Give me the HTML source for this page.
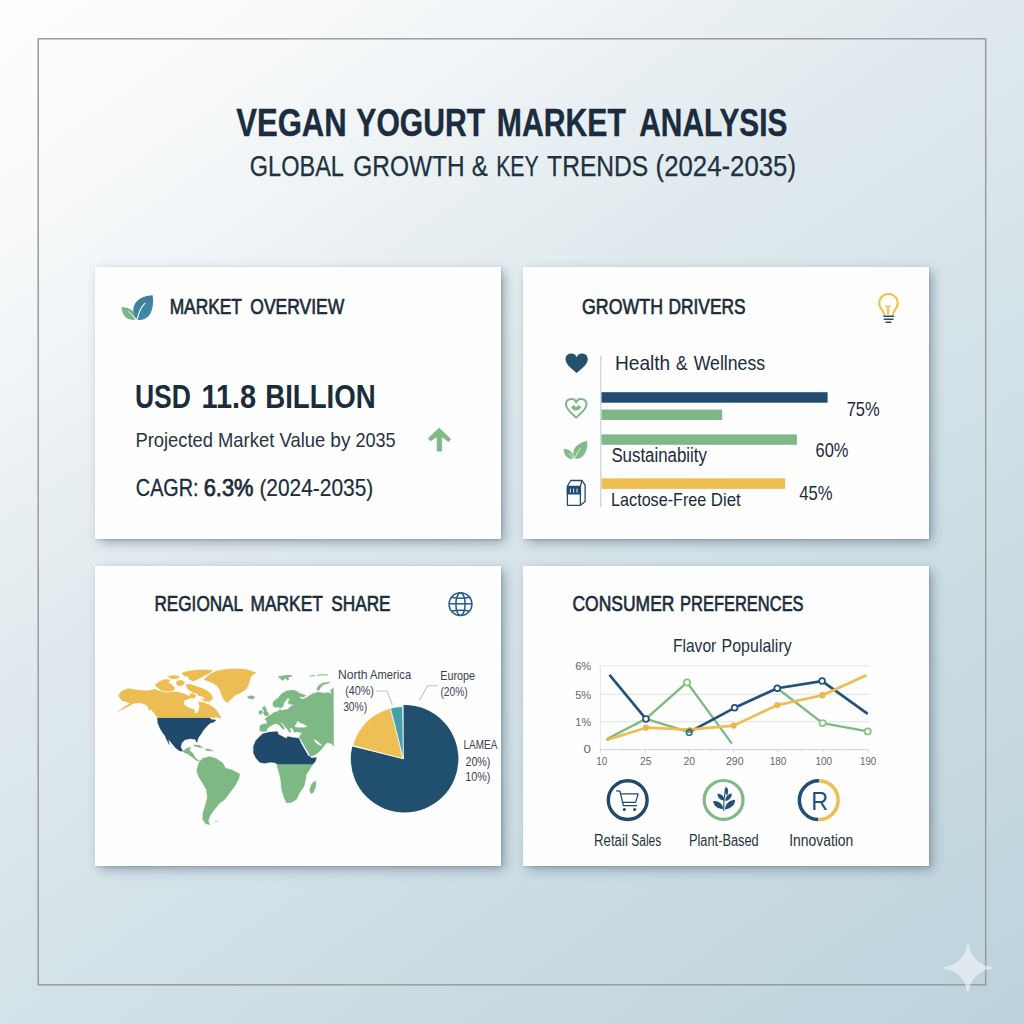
<!DOCTYPE html>
<html lang="en">
<head>
<meta charset="utf-8">
<title>Vegan Yogurt Market Analysis</title>
<style>
html,body{margin:0;padding:0;}
body{background:#d9e5ea;font-family:"Liberation Sans",sans-serif;}
#page{width:1024px;height:1024px;overflow:hidden;position:relative;
background:linear-gradient(145deg,#fefefe 0%,#f7f9fa 14%,#dfe9ed 41%,#d3e2e8 59%,#bcd2db 100%);}
.card{position:absolute;background:#fefefe;box-shadow:4px 4px 11px -1px rgba(40,62,84,0.42), 1px 1px 2px rgba(40,62,84,0.16);}
#c1{left:95px;top:267.2px;width:406px;height:271.7px;}
#c2{left:523px;top:267.2px;width:405.7px;height:271.7px;}
#c3{left:95px;top:566px;width:406px;height:299.7px;}
#c4{left:523px;top:566px;width:405.7px;height:299.7px;}
svg{position:absolute;left:0;top:0;}
text{font-family:"Liberation Sans",sans-serif;}
</style>
</head>
<body>
<div id="page">
<div class="card" id="c1"></div>
<div class="card" id="c2"></div>
<div class="card" id="c3"></div>
<div class="card" id="c4"></div>
<svg width="1024" height="1024" viewBox="0 0 1024 1024">
<g transform="translate(110,660) scale(0.16600)"><path d="M50,215 L62,196 L75,185 L110,172 L160,180 L230,185 L270,176 L300,186 L340,196 L400,192 L440,200 L470,214 L495,226 L470,236 L445,246 L445,266 L470,286 L505,296 L515,322 L530,316 L540,282 L532,252 L560,256 L600,270 L630,290 L650,315 L660,332 L672,352 L650,346 L600,348 L285,348 L268,322 L245,296 L235,305 L228,282 L215,270 L180,258 L140,262 L110,280 L70,300 L45,311 L80,286 L120,262 L95,250 L70,246 L60,228 Z" fill="#ecbd52" stroke="#ecbd52" stroke-width="1.6" stroke-linejoin="round"/><path d="M272,148 L300,128 L330,116 L362,120 L352,135 L375,150 L392,168 L380,186 L345,190 L310,182 L282,165 Z" fill="#ecbd52" stroke="#ecbd52" stroke-width="1.6" stroke-linejoin="round"/><path d="M345,100 L380,92 L420,98 L410,112 L375,114 Z" fill="#ecbd52" stroke="#ecbd52" stroke-width="1.6" stroke-linejoin="round"/><path d="M400,128 L428,120 L450,132 L440,150 L418,158 L400,146 Z" fill="#ecbd52" stroke="#ecbd52" stroke-width="1.6" stroke-linejoin="round"/><path d="M455,150 L480,145 L520,158 L555,170 L585,185 L608,205 L620,232 L600,248 L575,240 L560,222 L535,215 L520,200 L495,195 L470,178 Z" fill="#ecbd52" stroke="#ecbd52" stroke-width="1.6" stroke-linejoin="round"/><path d="M432,78 L470,66 L520,60 L580,58 L622,64 L596,82 L560,100 L528,118 L500,128 L478,118 L470,100 L445,96 Z" fill="#ecbd52" stroke="#ecbd52" stroke-width="1.6" stroke-linejoin="round"/><path d="M478,205 L500,200 L520,215 L505,232 L485,225 Z" fill="#ecbd52" stroke="#ecbd52" stroke-width="1.6" stroke-linejoin="round"/><path d="M545,232 L570,238 L600,252 L570,250 Z" fill="#ecbd52" stroke="#ecbd52" stroke-width="1.6" stroke-linejoin="round"/><path d="M565,118 L600,88 L640,66 L700,55 L760,52 L820,56 L880,76 L850,98 L838,140 L822,175 L792,196 L752,214 L722,244 L706,258 L686,240 L672,212 L662,180 L645,155 L610,135 Z" fill="#ecbd52" stroke="#ecbd52" stroke-width="1.6" stroke-linejoin="round"/><path d="M285,349 L600,349 L612,358 L640,362 L622,376 L605,380 L582,400 L562,425 L546,450 L532,468 L524,497 L512,478 L482,474 L452,480 L432,500 L426,525 L440,550 L420,548 L395,530 L372,502 L352,478 L358,512 L340,478 L330,455 L318,440 L300,410 L288,380 Z" fill="#1f4a6c" stroke="#1f4a6c" stroke-width="1.6" stroke-linejoin="round"/><path d="M440,550 L462,532 L486,524 L480,546 L500,562 L508,580 L520,595 L542,610 L520,606 L495,586 L470,566 L448,558 Z" fill="#7eb885" stroke="#7eb885" stroke-width="1.6" stroke-linejoin="round"/><path d="M505,510 L540,514 L562,530 L530,526 L506,516 Z" fill="#7eb885" stroke="#7eb885" stroke-width="1.6" stroke-linejoin="round"/><path d="M572,535 L600,537 L622,548 L582,546 Z" fill="#7eb885" stroke="#7eb885" stroke-width="1.6" stroke-linejoin="round"/><path d="M540,610 L560,592 L600,582 L640,594 L680,620 L695,650 L740,664 L782,686 L776,716 L752,760 L722,800 L692,840 L662,862 L642,886 L622,910 L602,940 L592,972 L602,992 L576,986 L558,960 L560,920 L575,870 L586,830 L580,780 L556,740 L532,700 L522,666 L530,636 Z" fill="#7eb885" stroke="#7eb885" stroke-width="1.6" stroke-linejoin="round"/><path d="M632,968 L645,970 L640,976 Z" fill="#7eb885" stroke="#7eb885" stroke-width="1.6" stroke-linejoin="round"/><path d="M826,222 L850,214 L874,222 L860,236 L836,232 Z" fill="#7eb885" stroke="#7eb885" stroke-width="1.6" stroke-linejoin="round"/></g><g transform="translate(240,660) scale(0.16600)"><path d="M222,629 L438,629 L420,660 L400,690 L396,720 L386,760 L360,800 L340,840 L310,858 L280,862 L266,830 L250,780 L246,730 L236,680 L226,650 Z" fill="#7eb885" stroke="#7eb885" stroke-width="1.6" stroke-linejoin="round"/><path d="M440,736 L458,730 L456,766 L440,800 L426,806 L420,780 L430,750 Z" fill="#7eb885" stroke="#7eb885" stroke-width="1.6" stroke-linejoin="round"/></g><g transform="translate(250,670) scale(0.09766)"><path d="M100,625 L100,572 L128,556 L172,548 L172,525 L150,502 L180,478 L215,455 L240,438 L262,428 L285,425 L300,405 L330,412 L385,402 L420,372 L447,356 L402,350 L388,330 L408,290 L380,295 L352,330 L340,372 L312,392 L280,378 L262,384 L238,372 L232,345 L240,320 L290,285 L320,245 L370,215 L430,205 L470,212 L510,238 L548,250 L572,262 L545,282 L520,272 L505,280 L540,300 L580,282 L610,262 L640,242 L700,225 L760,236 L800,230 L832,242 L822,210 L855,178 L858,780 L830,752 L790,745 L758,775 L742,800 L716,830 L680,860 L640,880 L614,884 L598,850 L560,790 L530,732 L515,702 L500,690 L518,662 L530,642 L480,632 L455,640 L440,612 L425,590 L410,600 L420,635 L405,640 L385,610 L365,590 L345,560 L325,540 L310,535 L335,565 L352,595 L345,612 L325,595 L300,565 L280,552 L255,550 L225,565 L200,580 L178,600 L170,625 L140,632 Z" fill="#7eb885" stroke="#7eb885" stroke-width="2.5" stroke-linejoin="round"/><path d="M125,385 L150,368 L165,395 L175,425 L195,450 L180,470 L150,465 L135,440 L145,415 L130,405 Z" fill="#7eb885" stroke="#7eb885" stroke-width="2.5" stroke-linejoin="round"/><path d="M90,425 L120,410 L130,430 L115,455 L92,450 Z" fill="#7eb885" stroke="#7eb885" stroke-width="2.5" stroke-linejoin="round"/><path d="M285,68 L330,60 L380,52 L430,55 L425,68 L390,75 L400,95 L385,105 L360,85 L335,110 L310,90 Z" fill="#7eb885" stroke="#7eb885" stroke-width="2.5" stroke-linejoin="round"/><path d="M615,55 L660,52 L662,64 L618,66 Z" fill="#9cc9a0" stroke="#9cc9a0" stroke-width="2.5" stroke-linejoin="round"/><path d="M690,50 L740,40 L800,45 L798,56 L745,54 L692,62 Z" fill="#9cc9a0" stroke="#9cc9a0" stroke-width="2.5" stroke-linejoin="round"/><path d="M680,200 L700,160 L750,130 L825,122 L800,137 L750,152 L722,180 L706,212 Z" fill="#7eb885" stroke="#7eb885" stroke-width="2.5" stroke-linejoin="round"/><path d="M100,680 L130,652 L200,636 L280,630 L292,660 L335,680 L372,702 L385,680 L440,690 L500,700 L520,742 L560,812 L600,872 L630,902 L682,895 L668,940 L642,966 L280,966 L255,950 L210,945 L150,956 L100,946 L60,902 L35,850 L35,782 L60,722 Z" fill="#1f4a6c" stroke="#1f4a6c" stroke-width="2.5" stroke-linejoin="round"/><path d="M455,578 L475,548 L490,520 L505,535 L525,545 L560,560 L590,580 L545,588 L490,588 Z" fill="#fefefe"/><path d="M660,710 L690,728 L722,758 L740,770 L720,772 L700,765 L675,745 L658,725 Z" fill="#fefefe"/><path d="M522,742 L532,738 L610,872 L600,880 Z" fill="#fefefe"/></g>
<rect x="38.2" y="38.8" width="947.5" height="946" fill="none" stroke="#9a9c9e" stroke-width="1.5"/>
<g opacity="0.52"><path d="M967.9,944.5 C970.006,957.37 978.43,965.794 991.3,967.9 C978.43,970.006 970.006,978.43 967.9,991.3 C965.794,978.43 957.37,970.006 944.5,967.9 C957.37,965.794 965.794,957.37 967.9,944.5 Z" fill="#ffffff" stroke="#ffffff" stroke-width="1.6" stroke-linejoin="round"/></g>
<g transform="translate(70,240) scale(0.08789)"><defs><linearGradient id="lg1" x1="0" y1="0" x2="0.3" y2="1"><stop offset="0" stop-color="#41788f"/><stop offset="1" stop-color="#3f8bab"/></linearGradient></defs><path d="M745,905 C700,918 640,900 610,850 C594,820 588,790 585,765 C625,760 685,775 718,812 C742,842 750,880 745,905 Z" fill="#79b688"/><path d="M765,908 C722,860 700,790 745,715 C790,650 880,630 940,628 C952,700 945,800 900,860 C870,900 810,918 765,908 Z" fill="url(#lg1)"/><path d="M668,818 C700,840 725,870 742,900" stroke="#fff" stroke-width="11" fill="none" stroke-linecap="round"/><path d="M852,720 C810,760 780,830 764,902" stroke="#fff" stroke-width="12" fill="none" stroke-linecap="round"/></g>
<path d="M439.17,428.09 L450.64,438.93 L448.69,441.76 L441.76,436.73 L441.76,451.13 L437.07,451.13 L437.07,436.73 L430.38,440.88 L428.09,438.44 Z" fill="#7dba86" stroke="#7dba86" stroke-width="0.6" stroke-linejoin="round"/>
<line x1="600.8" y1="355.5" x2="600.8" y2="507" stroke="#d0d8de" stroke-width="1.5"/>
<rect x="601.5" y="392.2" width="226.1" height="10.5" fill="#234d6e"/>
<rect x="601.5" y="409.6" width="120.7" height="10.4" fill="#7db886"/>
<rect x="601.5" y="434.4" width="195.4" height="10.4" fill="#7db886"/>
<rect x="601.5" y="478.3" width="183.7" height="10.6" fill="#edbf52"/>
<path d="M576.65,373 C573.9739999999999,370.648 565.5,364.768 565.5,359.28 C565.5,354.96799999999996 568.622,353.4 571.521,353.4 C573.9739999999999,353.4 575.981,354.772 576.65,357.32 C577.319,354.772 579.326,353.4 581.779,353.4 C584.678,353.4 587.8,354.96799999999996 587.8,359.28 C587.8,364.768 579.326,370.648 576.65,373 Z" fill="#25506f"/>
<path d="M576.2,417.4 C573.7520000000001,415.17999999999995 566.0,409.63 566.0,404.45 C566.0,400.38 568.856,398.9 571.508,398.9 C573.752,398.9 575.5880000000001,400.195 576.2,402.59999999999997 C576.812,400.195 578.648,398.9 580.8919999999999,398.9 C583.544,398.9 586.4,400.38 586.4,404.45 C586.4,409.63 578.648,415.17999999999995 576.2,417.4 Z" fill="none" stroke="#7db886" stroke-width="2.0" stroke-linejoin="round"/>
<path d="M571,407.6 L573.6,404.9 L576.2,407.2 L578.8,404.9 L581.3,407.4 L578.6,410 L575.4,410.7 L572.8,409.6 Z" fill="#7db886"/>
<g transform="translate(555,430) scale(0.078125)"><path d="M232,372 C190,378 140,350 122,305 C114,285 110,262 110,245 C150,240 195,258 220,295 C236,320 240,350 232,372 Z" fill="#80bb88"/><path d="M255,372 C225,320 225,255 275,205 C315,165 370,148 412,140 C420,200 405,280 360,330 C330,362 290,376 255,372 Z" fill="#80bb88"/><path d="M182,300 C205,320 222,345 232,368" stroke="#fff" stroke-width="9" fill="none" stroke-linecap="round"/><path d="M325,238 C290,275 268,320 254,368" stroke="#fff" stroke-width="10" fill="none" stroke-linecap="round"/></g>
<g fill="none" stroke="#1f4a72" stroke-width="1.3" stroke-linejoin="round"><path d="M567.4,486.3 L567.4,505.3 L580.4,505.3 L580.4,486.3 Z"/><path d="M567.4,486.3 L570.7,480.5 L582,480.5 L585.1,485.2 L585.1,501.6 L580.4,505.3"/><path d="M582,480.5 L580.4,486.3"/><rect x="567.4" y="487.6" width="13" height="6.2" fill="#1f4a72"/></g>
<g stroke="#fff" stroke-width="0.9"><line x1="570.3" y1="488.6" x2="570.3" y2="492.6"/><line x1="573.6" y1="488.6" x2="573.6" y2="492.6"/><line x1="577" y1="488.6" x2="577" y2="492.6"/></g>
<g transform="translate(865,285) scale(0.048828)"><path d="M392,600 C385,540 335,500 305,440 C270,360 300,255 385,210 C450,178 520,178 580,212 C660,258 690,360 655,440 C628,500 580,540 572,600" fill="none" stroke="#efc14f" stroke-width="42" stroke-linecap="round"/><path d="M418,432 L520,432 M452,440 L468,600 M490,440 L482,600" fill="none" stroke="#efc14f" stroke-width="26" stroke-linecap="round"/><g stroke="#244c6b" stroke-width="30" stroke-linecap="round"><line x1="385" y1="638" x2="588" y2="638"/><line x1="395" y1="703" x2="572" y2="703"/><line x1="432" y1="765" x2="530" y2="765"/></g></g>
<g fill="none" stroke="#245b88" stroke-width="1.5"><circle cx="460.5" cy="604.2" r="11.4"/><ellipse cx="460.5" cy="604.2" rx="4.6" ry="11.4"/><line x1="449.1" y1="603.8" x2="471.9" y2="603.8"/><path d="M451.3,597.3 Q460.5,599 469.7,597.3"/><path d="M451.3,611 Q460.5,609.3 469.7,611"/></g>
<circle cx="404.6" cy="758.8" r="53.8" fill="#21506f"/>
<path d="M403.50,759.10 L348.17,745.41 A57,57 0 0 1 403.50,702.10 Z" fill="#fefefe"/>
<path d="M403.30,758.80 L352.81,745.55 A52.2,52.2 0 0 1 390.49,708.19 Z" fill="#edbf54" stroke="#fdfbf3" stroke-width="0.8"/>
<path d="M403.30,758.80 L390.49,708.19 A52.2,52.2 0 0 1 402.66,706.60 Z" fill="#46a0ab" stroke="#f3f8f8" stroke-width="0.8"/>
<path d="M376,691 L387.1,691 L392.4,704.7" fill="none" stroke="#c0c4c7" stroke-width="1.1"/>
<path d="M437.6,685.8 L427.6,685.8 L419.3,700.7" fill="none" stroke="#c0c4c7" stroke-width="1.1"/>
<line x1="600.4" y1="665.8" x2="869.4" y2="665.8" stroke="#e6e9eb" stroke-width="1.2"/>
<line x1="600.4" y1="694.3" x2="869.4" y2="694.3" stroke="#e6e9eb" stroke-width="1.2"/>
<line x1="600.4" y1="721.7" x2="869.4" y2="721.7" stroke="#e6e9eb" stroke-width="1.2"/>
<line x1="600.4" y1="665.2" x2="600.4" y2="750.2" stroke="#e6e9eb" stroke-width="1.2"/>
<line x1="600.4" y1="749.6" x2="868.8" y2="749.6" stroke="#d3d9dd" stroke-width="1.3"/>
<line x1="600.4" y1="749.6" x2="600.4" y2="752.6" stroke="#d3d9dd" stroke-width="1.1"/>
<line x1="645.5" y1="749.6" x2="645.5" y2="752.6" stroke="#d3d9dd" stroke-width="1.1"/>
<line x1="689.2" y1="749.6" x2="689.2" y2="752.6" stroke="#d3d9dd" stroke-width="1.1"/>
<line x1="733.5" y1="749.6" x2="733.5" y2="752.6" stroke="#d3d9dd" stroke-width="1.1"/>
<line x1="777.5" y1="749.6" x2="777.5" y2="752.6" stroke="#d3d9dd" stroke-width="1.1"/>
<line x1="823.9" y1="749.6" x2="823.9" y2="752.6" stroke="#d3d9dd" stroke-width="1.1"/>
<line x1="868.5" y1="749.6" x2="868.5" y2="752.6" stroke="#d3d9dd" stroke-width="1.1"/>
<line x1="623" y1="749.6" x2="623" y2="751.4" stroke="#dde2e5" stroke-width="1"/>
<line x1="667.4" y1="749.6" x2="667.4" y2="751.4" stroke="#dde2e5" stroke-width="1"/>
<line x1="711.3" y1="749.6" x2="711.3" y2="751.4" stroke="#dde2e5" stroke-width="1"/>
<line x1="755.5" y1="749.6" x2="755.5" y2="751.4" stroke="#dde2e5" stroke-width="1"/>
<line x1="800.7" y1="749.6" x2="800.7" y2="751.4" stroke="#dde2e5" stroke-width="1"/>
<line x1="846.2" y1="749.6" x2="846.2" y2="751.4" stroke="#dde2e5" stroke-width="1"/>
<polyline points="607.4,738.8 645.9,718.9 687,682.4 731.9,743.6" fill="none" stroke="#7cb983" stroke-width="2.4" stroke-linejoin="round"/>
<polyline points="645.9,718.9 689.2,732.2" fill="none" stroke="#7cb983" stroke-width="2.4"/>
<polyline points="777.3,688.2 822.6,723.1 867.7,731.4" fill="none" stroke="#7cb983" stroke-width="2.4" stroke-linejoin="round"/>
<polyline points="609.5,674.9 645.9,718.9" fill="none" stroke="#21507a" stroke-width="2.6"/>
<polyline points="689.2,732.2 734.6,707.8 777.3,688.2 822.1,681.1 867.7,713.9" fill="none" stroke="#21507a" stroke-width="2.6" stroke-linejoin="round"/>
<polyline points="607.4,739.7 645.9,727.7 689.5,729.7 733.6,725.6 777.3,705.1 822.4,695.2 866.4,675.3" fill="none" stroke="#eebd4f" stroke-width="2.7" stroke-linejoin="round"/>
<circle cx="645.9" cy="727.7" r="3.1" fill="#e6b84f"/>
<circle cx="733.6" cy="725.6" r="3.1" fill="#e6b84f"/>
<circle cx="777.3" cy="705.1" r="3.1" fill="#e6b84f"/>
<circle cx="822.4" cy="695.2" r="3.1" fill="#e6b84f"/>
<circle cx="689.9" cy="729.9" r="2.6" fill="#b98d3f"/>
<circle cx="607.5" cy="739.5" r="1.6" fill="#d9b24c"/>
<circle cx="645.9" cy="718.9" r="2.9" fill="#fff" stroke="#21507a" stroke-width="1.7"/>
<circle cx="734.6" cy="707.8" r="2.9" fill="#fff" stroke="#21507a" stroke-width="1.7"/>
<circle cx="777.3" cy="688.2" r="2.9" fill="#fff" stroke="#21507a" stroke-width="1.7"/>
<circle cx="822.1" cy="681.1" r="2.9" fill="#fff" stroke="#21507a" stroke-width="1.7"/>
<circle cx="689.2" cy="732.6" r="2.8" fill="none" stroke="#1f7084" stroke-width="1.5"/>
<circle cx="687" cy="682.4" r="3.1" fill="#fff" stroke="#86c47e" stroke-width="1.7"/>
<circle cx="822.6" cy="723.1" r="3.1" fill="#fff" stroke="#86c47e" stroke-width="1.7"/>
<circle cx="867.7" cy="731.4" r="3.1" fill="#fff" stroke="#86c47e" stroke-width="1.7"/>
<circle cx="627.7" cy="800.1" r="19.4" fill="none" stroke="#21496b" stroke-width="3.4"/>
<circle cx="723.6" cy="799.9" r="19.4" fill="none" stroke="#7dba85" stroke-width="3.2"/>
<path d="M819.2,780.8 A19.4,19.4 0 0 0 818.3,819.6" fill="none" stroke="#1f4f75" stroke-width="3.5"/>
<path d="M819.2,780.8 A19.4,19.4 0 0 1 818.3,819.6" fill="none" stroke="#ecbf52" stroke-width="3.5"/>
<g fill="none" stroke="#21496b" stroke-width="1.25" stroke-linejoin="round" stroke-linecap="round"><path d="M616.6,790.8 L619.9,791.2 L623.4,805.6 L636.6,805.6"/><path d="M620.7,793.9 L638.2,793.9 L635.6,802.4 L622.6,802.4"/></g><circle cx="624.3" cy="809.5" r="1.5" fill="#21496b"/><circle cx="634.6" cy="809.5" r="1.5" fill="#21496b"/>
<g transform="translate(600,772) scale(0.15625)" fill="#23537a"><path d="M792,250 C790,200 795,150 803,110" stroke="#23537a" stroke-width="7" fill="none"/><path d="M805,95 C822,105 826,128 812,150 C798,140 794,112 805,95 Z"/><path d="M752,140 C775,138 795,155 796,182 C772,182 752,165 752,140 Z"/><path d="M843,138 C846,160 830,182 802,186 C800,160 818,140 843,138 Z"/><path d="M724,186 C755,180 785,200 790,236 C758,240 728,220 724,186 Z"/><path d="M864,178 C866,208 840,236 800,240 C800,206 828,180 864,178 Z"/></g>
<text id="t0" x="236.20" y="136.4" font-size="39.0" textLength="110.49" lengthAdjust="spacingAndGlyphs" fill="#1a2c3e" font-weight="bold" stroke="#1a2c3e" stroke-width="0.4" stroke-linejoin="round">VEGAN</text>
<text id="t1" x="356.35" y="136.4" font-size="39.0" textLength="128.75" lengthAdjust="spacingAndGlyphs" fill="#1a2c3e" font-weight="bold" stroke="#1a2c3e" stroke-width="0.4" stroke-linejoin="round">YOGURT</text>
<text id="t2" x="496.86" y="136.4" font-size="39.0" textLength="129.05" lengthAdjust="spacingAndGlyphs" fill="#1a2c3e" font-weight="bold" stroke="#1a2c3e" stroke-width="0.4" stroke-linejoin="round">MARKET</text>
<text id="t3" x="639.32" y="136.4" font-size="39.0" textLength="148.09" lengthAdjust="spacingAndGlyphs" fill="#1a2c3e" font-weight="bold" stroke="#1a2c3e" stroke-width="0.4" stroke-linejoin="round">ANALYSIS</text>
<text id="t4" x="249.85" y="175.9" font-size="28.6" textLength="94.02" lengthAdjust="spacingAndGlyphs" fill="#20323f" stroke="#20323f" stroke-width="0.25" stroke-linejoin="round">GLOBAL</text>
<text id="t5" x="353.32" y="175.9" font-size="28.6" textLength="111.30" lengthAdjust="spacingAndGlyphs" fill="#20323f" stroke="#20323f" stroke-width="0.25" stroke-linejoin="round">GROWTH</text>
<text id="t6" x="471.84" y="175.9" font-size="28.6" textLength="16.10" lengthAdjust="spacingAndGlyphs" fill="#20323f" stroke="#20323f" stroke-width="0.25" stroke-linejoin="round">&amp;</text>
<text id="t7" x="496.13" y="175.9" font-size="28.6" textLength="42.63" lengthAdjust="spacingAndGlyphs" fill="#20323f" stroke="#20323f" stroke-width="0.25" stroke-linejoin="round">KEY</text>
<text id="t8" x="547.12" y="175.9" font-size="28.6" textLength="101.16" lengthAdjust="spacingAndGlyphs" fill="#20323f" stroke="#20323f" stroke-width="0.25" stroke-linejoin="round">TRENDS</text>
<text id="t9" x="655.60" y="175.9" font-size="28.6" textLength="140.44" lengthAdjust="spacingAndGlyphs" fill="#20323f" stroke="#20323f" stroke-width="0.25" stroke-linejoin="round">(2024-2035)</text>
<text id="t10" x="169.65" y="314.3" font-size="22.3" textLength="72.31" lengthAdjust="spacingAndGlyphs" fill="#1b2c3b" stroke="#1b2c3b" stroke-width="0.7" stroke-linejoin="round">MARKET</text>
<text id="t11" x="250.29" y="314.3" font-size="22.3" textLength="94.05" lengthAdjust="spacingAndGlyphs" fill="#1b2c3b" stroke="#1b2c3b" stroke-width="0.7" stroke-linejoin="round">OVERVIEW</text>
<text id="t12" x="134.90" y="408.0" font-size="33.0" textLength="55.99" lengthAdjust="spacingAndGlyphs" fill="#1b2c3b" font-weight="bold">USD</text>
<text id="t13" x="201.47" y="408.0" font-size="33.0" textLength="54.66" lengthAdjust="spacingAndGlyphs" fill="#1b2c3b" font-weight="bold">11.8</text>
<text id="t14" x="265.20" y="408.0" font-size="33.0" textLength="110.51" lengthAdjust="spacingAndGlyphs" fill="#1b2c3b" font-weight="bold">BILLION</text>
<text id="t15" x="135.41" y="447.3" font-size="21.0" textLength="77.66" lengthAdjust="spacingAndGlyphs" fill="#26343f">Projected</text>
<text id="t16" x="218.03" y="447.3" font-size="21.0" textLength="56.24" lengthAdjust="spacingAndGlyphs" fill="#26343f">Market</text>
<text id="t17" x="279.51" y="447.3" font-size="21.0" textLength="45.67" lengthAdjust="spacingAndGlyphs" fill="#26343f">Value</text>
<text id="t18" x="330.29" y="447.3" font-size="21.0" textLength="20.14" lengthAdjust="spacingAndGlyphs" fill="#26343f">by</text>
<text id="t19" x="355.39" y="447.3" font-size="21.0" textLength="40.26" lengthAdjust="spacingAndGlyphs" fill="#26343f">2035</text>
<text id="t20" x="135.85" y="495.7" font-size="23.7" textLength="62.75" lengthAdjust="spacingAndGlyphs" fill="#1b2c3b" stroke="#1b2c3b" stroke-width="0.3" stroke-linejoin="round">CAGR:</text>
<text id="t21" x="203.69" y="495.7" font-size="23.7" textLength="49.80" lengthAdjust="spacingAndGlyphs" fill="#1b2c3b" stroke="#1b2c3b" stroke-width="0.75" stroke-linejoin="round">6.3%</text>
<text id="t22" x="259.38" y="495.7" font-size="23.7" textLength="113.92" lengthAdjust="spacingAndGlyphs" fill="#1b2c3b" stroke="#1b2c3b" stroke-width="0.2" stroke-linejoin="round">(2024-2035)</text>
<text id="t23" x="582.02" y="314.4" font-size="22.7" textLength="80.97" lengthAdjust="spacingAndGlyphs" fill="#1b2c3b" stroke="#1b2c3b" stroke-width="0.7" stroke-linejoin="round">GROWTH</text>
<text id="t24" x="668.51" y="314.4" font-size="22.7" textLength="76.99" lengthAdjust="spacingAndGlyphs" fill="#1b2c3b" stroke="#1b2c3b" stroke-width="0.7" stroke-linejoin="round">DRIVERS</text>
<text id="t25" x="614.94" y="370.0" font-size="21" textLength="55.29" lengthAdjust="spacingAndGlyphs" fill="#1b2c3b">Health</text>
<text id="t26" x="676.08" y="370.0" font-size="21" textLength="11.60" lengthAdjust="spacingAndGlyphs" fill="#1b2c3b">&amp;</text>
<text id="t27" x="693.66" y="370.0" font-size="21" textLength="71.49" lengthAdjust="spacingAndGlyphs" fill="#1b2c3b">Wellness</text>
<text id="t28" x="846.66" y="415.6" font-size="19.8" textLength="33.03" lengthAdjust="spacingAndGlyphs" fill="#1b2c3b">75%</text>
<text id="t29" x="815.55" y="456.7" font-size="19.8" textLength="32.93" lengthAdjust="spacingAndGlyphs" fill="#1b2c3b">60%</text>
<text id="t30" x="799.29" y="499.7" font-size="19.8" textLength="33.28" lengthAdjust="spacingAndGlyphs" fill="#1b2c3b">45%</text>
<text id="t31" x="611.38" y="462.4" font-size="19.5" textLength="95.55" lengthAdjust="spacingAndGlyphs" fill="#1b2c3b">Sustainabiity</text>
<text id="t32" x="611.11" y="506.4" font-size="19.0" textLength="95.16" lengthAdjust="spacingAndGlyphs" fill="#1b2c3b">Lactose-Free</text>
<text id="t33" x="710.80" y="506.4" font-size="19.0" textLength="29.92" lengthAdjust="spacingAndGlyphs" fill="#1b2c3b">Diet</text>
<text id="t34" x="154.44" y="611.0" font-size="22.8" textLength="88.67" lengthAdjust="spacingAndGlyphs" fill="#1b2c3b" stroke="#1b2c3b" stroke-width="0.7" stroke-linejoin="round">REGIONAL</text>
<text id="t35" x="250.49" y="611.0" font-size="22.8" textLength="72.40" lengthAdjust="spacingAndGlyphs" fill="#1b2c3b" stroke="#1b2c3b" stroke-width="0.7" stroke-linejoin="round">MARKET</text>
<text id="t36" x="331.29" y="611.0" font-size="22.8" textLength="59.29" lengthAdjust="spacingAndGlyphs" fill="#1b2c3b" stroke="#1b2c3b" stroke-width="0.7" stroke-linejoin="round">SHARE</text>
<text id="t37" x="337.94" y="679.3" font-size="13" textLength="29.64" lengthAdjust="spacingAndGlyphs" fill="#36424d">North</text>
<text id="t38" x="370.11" y="679.3" font-size="13" textLength="40.99" lengthAdjust="spacingAndGlyphs" fill="#36424d">America</text>
<text id="t39" x="345.19" y="695.4" font-size="13" textLength="28.73" lengthAdjust="spacingAndGlyphs" fill="#36424d">(40%)</text>
<text id="t40" x="343.16" y="711.2" font-size="13" textLength="23.94" lengthAdjust="spacingAndGlyphs" fill="#36424d">30%)</text>
<text id="t41" x="440.21" y="679.6" font-size="13" textLength="34.73" lengthAdjust="spacingAndGlyphs" fill="#36424d">Europe</text>
<text id="t42" x="440.43" y="696.3" font-size="13" textLength="27.28" lengthAdjust="spacingAndGlyphs" fill="#36424d">(20%)</text>
<text id="t43" x="463.55" y="749.4" font-size="12.2" textLength="33.81" lengthAdjust="spacingAndGlyphs" fill="#36424d">LAMEA</text>
<text id="t44" x="465.51" y="765.7" font-size="13" textLength="24.85" lengthAdjust="spacingAndGlyphs" fill="#36424d">20%)</text>
<text id="t45" x="465.25" y="781.2" font-size="13" textLength="25.15" lengthAdjust="spacingAndGlyphs" fill="#36424d">10%)</text>
<text id="t46" x="572.44" y="611.1" font-size="22.9" textLength="102.04" lengthAdjust="spacingAndGlyphs" fill="#1b2c3b" stroke="#1b2c3b" stroke-width="0.7" stroke-linejoin="round">CONSUMER</text>
<text id="t47" x="680.02" y="611.1" font-size="22.9" textLength="123.59" lengthAdjust="spacingAndGlyphs" fill="#1b2c3b" stroke="#1b2c3b" stroke-width="0.7" stroke-linejoin="round">PREFERENCES</text>
<text id="t48" x="672.90" y="651.7" font-size="19" textLength="43.39" lengthAdjust="spacingAndGlyphs" fill="#22323f">Flavor</text>
<text id="t49" x="721.60" y="651.7" font-size="19" textLength="70.11" lengthAdjust="spacingAndGlyphs" fill="#22323f">Populaliry</text>
<text id="t50" x="575.18" y="670.3" font-size="11.4" textLength="16.10" lengthAdjust="spacingAndGlyphs" fill="#5f676d">6%</text>
<text id="t51" x="575.15" y="698.5" font-size="11.4" textLength="16.14" lengthAdjust="spacingAndGlyphs" fill="#5f676d">5%</text>
<text id="t52" x="575.37" y="726.1" font-size="11.4" textLength="15.82" lengthAdjust="spacingAndGlyphs" fill="#5f676d">1%</text>
<text id="t53" x="583.41" y="753.3" font-size="11.4" textLength="7.39" lengthAdjust="spacingAndGlyphs" fill="#5f676d">0</text>
<text id="t54" x="596.33" y="765.4" font-size="11" textLength="10.91" lengthAdjust="spacingAndGlyphs" fill="#5f676d">10</text>
<text id="t55" x="640.08" y="765.4" font-size="11" textLength="11.48" lengthAdjust="spacingAndGlyphs" fill="#5f676d">25</text>
<text id="t56" x="683.50" y="765.4" font-size="11" textLength="11.52" lengthAdjust="spacingAndGlyphs" fill="#5f676d">20</text>
<text id="t57" x="726.07" y="765.4" font-size="11" textLength="17.42" lengthAdjust="spacingAndGlyphs" fill="#5f676d">290</text>
<text id="t58" x="769.63" y="765.4" font-size="11" textLength="16.77" lengthAdjust="spacingAndGlyphs" fill="#5f676d">180</text>
<text id="t59" x="815.39" y="765.4" font-size="11" textLength="16.66" lengthAdjust="spacingAndGlyphs" fill="#5f676d">100</text>
<text id="t60" x="860.03" y="765.4" font-size="11" textLength="16.27" lengthAdjust="spacingAndGlyphs" fill="#5f676d">190</text>
<text id="t61" x="594.05" y="845.6" font-size="15.8" textLength="33.78" lengthAdjust="spacingAndGlyphs" fill="#25343f">Retail</text>
<text id="t62" x="631.36" y="845.6" font-size="15.8" textLength="29.77" lengthAdjust="spacingAndGlyphs" fill="#25343f">Sales</text>
<text id="t63" x="688.97" y="845.6" font-size="15.8" textLength="69.77" lengthAdjust="spacingAndGlyphs" fill="#25343f">Plant-Based</text>
<text id="t64" x="789.16" y="845.6" font-size="15.8" textLength="64.18" lengthAdjust="spacingAndGlyphs" fill="#25343f">Innovation</text>
<text id="t65" x="811.15" y="809.5" font-size="26.6" textLength="16.87" lengthAdjust="spacingAndGlyphs" fill="#21507a">R</text>
</svg>
</div>
</body>
</html>
